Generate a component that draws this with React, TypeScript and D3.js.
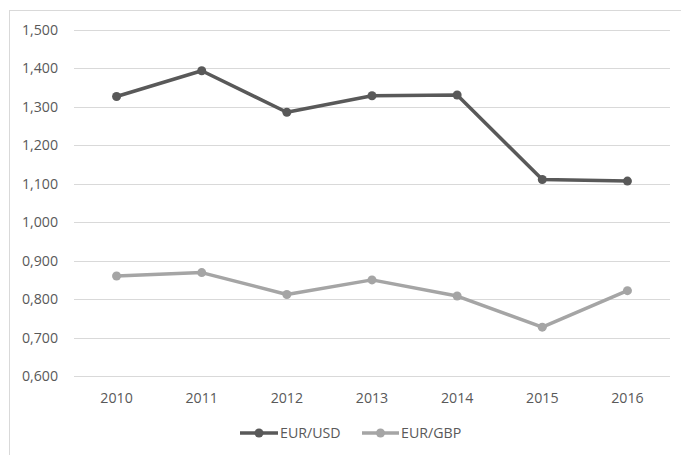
import React, { useEffect, useRef } from "react";
import * as d3 from "d3";

const years = ["2010", "2011", "2012", "2013", "2014", "2015", "2016"];
const eurUsd = [1.327, 1.394, 1.286, 1.329, 1.331, 1.111, 1.107];
const eurGbp = [0.86, 0.869, 0.812, 0.85, 0.808, 0.727, 0.822];
const yTicks = [0.6, 0.7, 0.8, 0.9, 1.0, 1.1, 1.2, 1.3, 1.4, 1.5];
const seriesNames = ["EUR/USD", "EUR/GBP"];
const seriesColors = ["#595959", "#a5a5a5"];

const W = 681;
const H = 455;
const FONT = "'Open Sans', sans-serif";
const FS = 14.2;

export default function App() {
  const ref = useRef<SVGSVGElement>(null);

  useEffect(() => {
    const svg = d3.select(ref.current);
    svg.selectAll("*").remove();

    const left = 74, right = 670, top = 30, bottom = 376;
    const x = d3.scaleBand<string>().domain(years).range([left, right]);
    const y = d3.scaleLinear().domain([0.6, 1.5]).range([bottom, top]);
    const fmt = (v: number) => d3.format(".3f")(v).replace(".", ",");

    svg.append("rect").attr("x", 0).attr("y", 0).attr("width", W).attr("height", H).attr("fill", "#fff");
    svg.append("rect")
      .attr("x", 9.5).attr("y", 10.5).attr("width", W + 20).attr("height", H + 20)
      .attr("fill", "none").attr("stroke", "#d9d9d9").attr("stroke-width", 1);

    // gridlines
    svg.append("g").selectAll("line").data(yTicks).join("line")
      .attr("x1", left).attr("x2", right)
      .attr("y1", (d) => Math.round(y(d)) + 0.5).attr("y2", (d) => Math.round(y(d)) + 0.5)
      .attr("stroke", "#d9d9d9").attr("stroke-width", 1);

    // y labels
    svg.append("g").selectAll("text").data(yTicks).join("text")
      .attr("x", 58).attr("y", (d) => y(d)).attr("dy", "0.35em")
      .attr("text-anchor", "end").attr("font-family", FONT).attr("font-size", FS)
      .attr("fill", "#595959").text((d) => fmt(d));

    // x labels
    svg.append("g").selectAll("text").data(years).join("text")
      .attr("x", (d) => (x(d) as number) + x.bandwidth() / 2).attr("y", 398).attr("dy", "0.35em")
      .attr("text-anchor", "middle").attr("font-family", FONT).attr("font-size", FS)
      .attr("fill", "#595959").text((d) => d);

    const line = d3.line<number>()
      .x((_, i) => (x(years[i]) as number) + x.bandwidth() / 2)
      .y((d) => y(d));

    [eurUsd, eurGbp].forEach((vals, si) => {
      const g = svg.append("g");
      g.append("path").datum(vals).attr("d", line).attr("fill", "none")
        .attr("stroke", seriesColors[si]).attr("stroke-width", 3.5).attr("stroke-linejoin", "round");
      g.selectAll("circle").data(vals).join("circle")
        .attr("cx", (_, i) => (x(years[i]) as number) + x.bandwidth() / 2)
        .attr("cy", (d) => y(d)).attr("r", 4.5).attr("fill", seriesColors[si]);
    });

    // legend
    const legendItems = [
      { x0: 240, x1: 278, tx: 280 },
      { x0: 362, x1: 399, tx: 401 },
    ];
    const ly = 433;
    seriesNames.forEach((name, i) => {
      const it = legendItems[i];
      const g = svg.append("g");
      g.append("line").attr("x1", it.x0).attr("x2", it.x1).attr("y1", ly).attr("y2", ly)
        .attr("stroke", seriesColors[i]).attr("stroke-width", 3.5);
      g.append("circle").attr("cx", (it.x0 + it.x1) / 2).attr("cy", ly).attr("r", 4.5).attr("fill", seriesColors[i]);
      g.append("text").attr("x", it.tx).attr("y", ly).attr("dy", "0.35em")
        .attr("font-family", FONT).attr("font-size", FS).attr("fill", "#595959").text(name);
    });
  }, []);

  return (
    <svg ref={ref} width={W} height={H}
      style={{ position: "absolute", left: 0, top: 0, display: "block" }} />
  );
}
